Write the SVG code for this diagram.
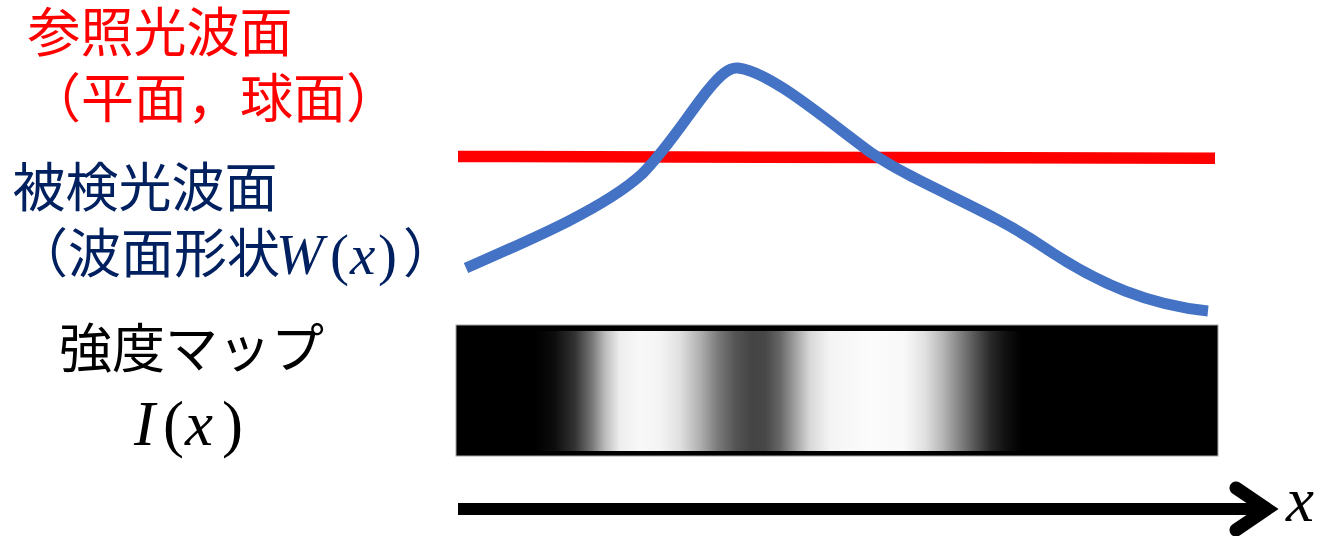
<svg xmlns="http://www.w3.org/2000/svg" width="1324" height="536" viewBox="0 0 1324 536">
<style>
.jp{font-family:"Noto Sans CJK JP","Noto Sans CJK SC",sans-serif;font-size:53px}
.red{fill:#FF0000}
.navy{fill:#002060}
.blk{fill:#000}
.math{font-family:"Liberation Serif",serif;font-style:italic}
.up{font-family:"Liberation Serif",serif;font-style:normal}
</style>
<defs>
<linearGradient id="fringe" gradientUnits="userSpaceOnUse" x1="456" y1="0" x2="1218" y2="0">
<stop offset="0" stop-color="#000"/>
<stop offset="0.1037" stop-color="#000"/>
<stop offset="0.1299" stop-color="#0d0d0d"/>
<stop offset="0.1562" stop-color="#333"/>
<stop offset="0.1785" stop-color="#777"/>
<stop offset="0.1955" stop-color="#bbb"/>
<stop offset="0.2152" stop-color="#eee"/>
<stop offset="0.2415" stop-color="#f8f8f8"/>
<stop offset="0.2677" stop-color="#f4f4f4"/>
<stop offset="0.2940" stop-color="#e0e0e0"/>
<stop offset="0.3202" stop-color="#b0b0b0"/>
<stop offset="0.3438" stop-color="#7a7a7a"/>
<stop offset="0.3661" stop-color="#555"/>
<stop offset="0.3885" stop-color="#444"/>
<stop offset="0.4055" stop-color="#474747"/>
<stop offset="0.4252" stop-color="#666"/>
<stop offset="0.4449" stop-color="#a0a0a0"/>
<stop offset="0.4646" stop-color="#d8d8d8"/>
<stop offset="0.4908" stop-color="#f4f4f4"/>
<stop offset="0.5433" stop-color="#fcfcfc"/>
<stop offset="0.5892" stop-color="#f8f8f8"/>
<stop offset="0.6155" stop-color="#e0e0e0"/>
<stop offset="0.6378" stop-color="#b8b8b8"/>
<stop offset="0.6588" stop-color="#888"/>
<stop offset="0.6811" stop-color="#555"/>
<stop offset="0.7008" stop-color="#2a2a2a"/>
<stop offset="0.7205" stop-color="#111"/>
<stop offset="0.7428" stop-color="#000"/>
<stop offset="1" stop-color="#000"/>
</linearGradient>
</defs>
<rect width="1324" height="536" fill="#fff"/>

<g id="label-reference" class="jp red">
<text x="27.5" y="52">参照光波面</text>
<text x="28" y="117.5">（平面，球面）</text>
</g>

<g id="label-test" class="navy">
<text class="jp" x="12.5" y="206.5">被検光波面</text>
<text class="jp" x="15" y="273">（波面形状</text>
<text class="math" x="276" y="274" font-size="57">W</text>
<text class="up" x="330" y="274" font-size="57">(</text>
<text class="math" x="350" y="274" font-size="57">x</text>
<text class="up" x="378" y="274" font-size="57">)</text>
<text class="jp" x="403" y="273">）</text>
</g>

<g id="label-intensity" class="blk">
<text class="jp" x="59" y="368">強度マップ</text>
<text class="math" x="134" y="445" font-size="63">I</text>
<text class="up" x="163" y="445" font-size="63">(</text>
<text class="math" x="185" y="445" font-size="63">x</text>
<text class="up" x="222" y="445" font-size="63">)</text>
</g>

<g id="reference-wavefront">
<line x1="458" y1="156.5" x2="1215" y2="158.3" stroke="#FF0000" stroke-width="11.5"/>
</g>

<g id="test-wavefront">
<path d="M466,268 C530,240 605,208 642,174 C668,148 690,112 708,90 C720,75 729,67 738,68 C770,72 820,115 870,152 C920,186 985,207 1045,248 C1100,285 1150,305 1208,311" fill="none" stroke="#4472C4" stroke-width="11"/>
</g>

<g id="intensity-map">
<rect x="456" y="325" width="762" height="131" fill="#000" stroke="#a6a6a6" stroke-width="1"/>
<rect x="457" y="331" width="760" height="120" fill="url(#fringe)"/>
</g>

<g id="connectors">
<line x1="458" y1="509" x2="1268" y2="509" stroke="#000" stroke-width="12"/>
<polyline points="1236,488 1267,509 1236,530" fill="none" stroke="#000" stroke-width="13" stroke-linecap="round" stroke-linejoin="miter"/>
</g>

<g id="axis-label">
<text class="math" x="1286" y="521" font-size="63" fill="#000">x</text>
</g>
</svg>
